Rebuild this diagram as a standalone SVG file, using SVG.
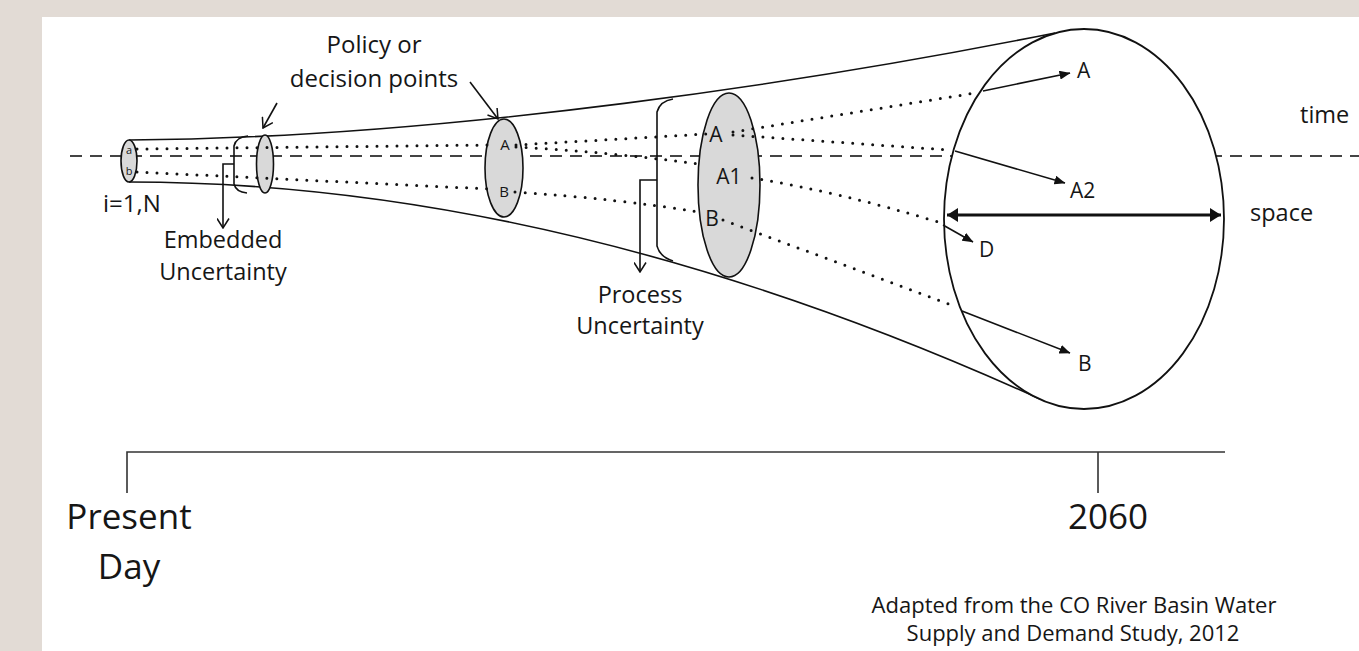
<svg xmlns="http://www.w3.org/2000/svg" width="1359" height="651" viewBox="0 0 1359 651">
  <style>
    .t { font-family: "Open Sans", "Noto Sans", "Liberation Sans", sans-serif; fill: #161616; }
    .line { fill: none; stroke: #111; stroke-width: 1.6; }
    .dot { fill: none; stroke: #111; stroke-width: 3; stroke-linecap: round; stroke-dasharray: 0 10; }
    .dash { fill: none; stroke: #444; stroke-width: 1.8; stroke-dasharray: 12 8; }
    .disk { fill: #d9d9d9; stroke: #111; stroke-width: 1.6; }
    .arr { fill: none; stroke: #111; stroke-width: 1.6; }
    .axis { fill: none; stroke: #333; stroke-width: 1.6; }
  </style>
  <defs>
    <marker id="open" viewBox="0 0 11 13" refX="10" refY="6.5" markerWidth="11" markerHeight="13" markerUnits="userSpaceOnUse" orient="auto">
      <path d="M0.5,0.5 L10,6.5 L0.5,12.5" fill="none" stroke="#111" stroke-width="1.5"/>
    </marker>
    <marker id="solid" viewBox="0 0 11 9" refX="10.5" refY="4.5" markerWidth="11" markerHeight="9" markerUnits="userSpaceOnUse" orient="auto">
      <path d="M0,0 L11,4.5 L0,9 z" fill="#111"/>
    </marker>
    <marker id="big" viewBox="0 0 11 14" refX="11" refY="7" markerWidth="11" markerHeight="14" markerUnits="userSpaceOnUse" orient="auto-start-reverse">
      <path d="M0,0 L11,7 L0,14 z" fill="#111"/>
    </marker>
  </defs>

  <rect x="0" y="0" width="1359" height="651" fill="#e2dbd5"/>
  <rect x="42" y="17" width="1317" height="634" fill="#ffffff"/>

  <!-- funnel outline -->
  <g id="funnel">
    <path class="line" d="M129,140 C450,138 820,80 1055,33"/>
    <path class="line" d="M129,182 C480,182 800,290 1040,399"/>
    <path class="dash" d="M70,156 H1359"/>
  </g>

  <!-- uncertainty brackets -->
  <g id="embedded-bracket">
    <path class="line" d="M248,136 Q236,137 234,146 L234,184 Q236,192 247,193"/>
  </g>
  <g id="process-bracket">
    <path class="line" d="M673,99 Q660,101 657,112 L657,246 Q660,257 673,261"/>
  </g>

  <!-- decision ellipses -->
  <g id="node-start">
    <ellipse class="disk" cx="129" cy="161" rx="8" ry="21"/>
    <text class="t" x="129" y="154" font-size="11" text-anchor="middle">a</text>
    <text class="t" x="129" y="175" font-size="11" text-anchor="middle">b</text>
  </g>
  <g id="node-decision-1">
    <ellipse class="disk" cx="265" cy="164" rx="8.5" ry="29"/>
  </g>
  <g id="node-decision-2">
    <ellipse class="disk" cx="504" cy="168" rx="19" ry="49"/>
    <text class="t" x="505" y="150" font-size="15" text-anchor="middle">A</text>
    <text class="t" x="504" y="197" font-size="15" text-anchor="middle">B</text>
  </g>
  <g id="node-decision-3">
    <ellipse class="disk" cx="729" cy="185" rx="31" ry="92"/>
    <text class="t" x="716" y="142" font-size="21" text-anchor="middle">A</text>
    <text class="t" x="729" y="184" font-size="21" text-anchor="middle">A1</text>
    <text class="t" x="712" y="226" font-size="21" text-anchor="middle">B</text>
  </g>

  <!-- dotted scenario paths -->
  <g id="connectors">
    <path class="dot" d="M137,149 L490,145"/>
    <path class="dot" d="M137,172 L490,189"/>
    <path class="dot" d="M516,145 L706,134"/>
    <path class="dot" d="M516,147 Q610,152 698,164"/>
    <path class="dot" d="M515,192 Q620,199 699,212"/>
    <path class="dot" d="M733,132 L975,93"/>
    <path class="dot" d="M733,135 L949,150"/>
    <path class="dot" d="M752,178 Q840,192 938,222"/>
    <path class="dot" d="M723,220 L957,307"/>
  </g>

  <!-- future ellipse -->
  <g id="node-2060">
    <ellipse cx="1084" cy="219" rx="140" ry="190" fill="#ffffff" stroke="#111" stroke-width="1.8"/>
    <path d="M947,215 H1221" fill="none" stroke="#111" stroke-width="3" marker-start="url(#big)" marker-end="url(#big)"/>
    <text class="t" x="1077" y="78" font-size="21">A</text>
    <text class="t" x="1070" y="198" font-size="21">A2</text>
    <text class="t" x="979" y="257" font-size="21">D</text>
    <text class="t" x="1078" y="371" font-size="21">B</text>
  </g>

  <g id="outcome-arrows">
    <path class="arr" d="M983,91 L1070,73" marker-end="url(#solid)"/>
    <path class="arr" d="M955,151 L1065,183" marker-end="url(#solid)"/>
    <path class="arr" d="M943,225 L973,242" marker-end="url(#solid)"/>
    <path class="arr" d="M962,311 L1070,353" marker-end="url(#solid)"/>
    <path class="arr" d="M277,103 L263,128" marker-end="url(#open)"/>
    <path class="arr" d="M470,82 L498,119" marker-end="url(#open)"/>
    <path class="arr" d="M234,164 H223 V228" marker-end="url(#open)"/>
    <path class="arr" d="M657,180 H640 V272" marker-end="url(#open)"/>
  </g>

  <!-- labels -->
  <g id="label-policy">
    <text class="t" x="374" y="53" font-size="24" text-anchor="middle">Policy or</text>
    <text class="t" x="374" y="87" font-size="24" text-anchor="middle">decision points</text>
  </g>
  <g id="label-i">
    <text class="t" x="103" y="212" font-size="24">i=1,N</text>
  </g>
  <g id="label-embedded">
    <text class="t" x="223" y="248" font-size="23.5" text-anchor="middle">Embedded</text>
    <text class="t" x="223" y="280" font-size="23.5" text-anchor="middle">Uncertainty</text>
  </g>
  <g id="label-process">
    <text class="t" x="640" y="303" font-size="23.5" text-anchor="middle">Process</text>
    <text class="t" x="640" y="334" font-size="23.5" text-anchor="middle">Uncertainty</text>
  </g>
  <g id="label-axes">
    <text class="t" x="1300" y="123" font-size="23.5">time</text>
    <text class="t" x="1250" y="221" font-size="23.5">space</text>
  </g>

  <!-- timeline -->
  <g id="timeline">
    <path class="axis" d="M127,493 V452 H1225 M1098,452 V493"/>
    <text class="t" x="129" y="529" font-size="35" text-anchor="middle">Present</text>
    <text class="t" x="129" y="579" font-size="35" text-anchor="middle">Day</text>
    <text class="t" x="1108" y="529" font-size="35" text-anchor="middle">2060</text>
  </g>

  <g id="credit">
    <text class="t" x="1074" y="613" font-size="22" text-anchor="middle">Adapted from the CO River Basin Water</text>
    <text class="t" x="1073" y="641" font-size="22" text-anchor="middle">Supply and Demand Study, 2012</text>
  </g>
</svg>
